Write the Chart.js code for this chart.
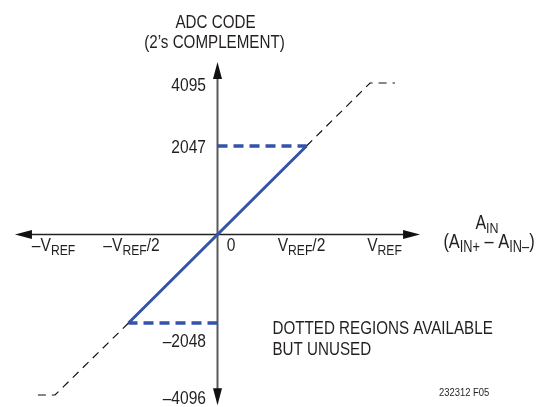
<!DOCTYPE html>
<html>
<head>
<meta charset="utf-8">
<script src="https://cdn.jsdelivr.net/npm/chart.js@4.4.1/dist/chart.umd.min.js"></script>
<style>
html, body { margin: 0; padding: 0; background: #fff; }
canvas { display: block; }
</style>
</head>
<body>
<canvas id="chart" width="541" height="407"></canvas>
<script>
// ADC transfer function. A_IN in units of VREF, output code in 2's complement.
var vinUsed  = [-0.5, 0, 0.5];
var codeUsed = [-2048, 0, 2047];

// dotted parts (available but unused)
var vinHigh  = [0.5, 0.857, 0.997];
var codeHigh = [2047, 3505, 3505];
var vinLow   = [-0.5, -0.913, -1.037];
var codeLow  = [-2048, -3713, -3713];

// full scale markers (dashed blue, from the code axis to the end of the used range)
var fsVin  = [0.5, -0.5];
var fsCode = [2047, -2048];

// tick labels. parts: [text, subscript?]
var xTicks = [-1, -0.5, 0, 0.5, 1];
var xTickLabels = [
  [['–V', 0], ['REF', 1]],
  [['–V', 0], ['REF', 1], ['/2', 0]],
  [['0', 0]],
  [['V', 0], ['REF', 1], ['/2', 0]],
  [['V', 0], ['REF', 1]]
];
var yTicks = [codeHigh[1], fsCode[0], fsCode[1], codeLow[1]];
var yTickLabels = ['4095', '2047', '–2048', '–4096'];

// small nudges of the labels, like on the original drawing
var xLabelShift = [14, 3, 13.5, -5, -11];
var yLabelDrop  = [8, 7, 23.5, 9];

var ink = '#231f20';
var blue = '#3553a8';

// is the narrow font there? if not, squeeze the regular one
var sqz = 1, fam = '"Liberation Sans Narrow"';
(function(){
  var c = document.createElement('canvas').getContext('2d');
  c.font = '40px "Liberation Sans Narrow", monospace';
  var a = c.measureText('ABCDEFGH').width;
  c.font = '40px monospace';
  var b = c.measureText('ABCDEFGH').width;
  if (a == b) { fam = '"Liberation Sans", Arial'; sqz = 0.82; }
})();

function rich(ctx, parts, x, y, align, size) {
  var sub = size * 0.78, drop = size * 0.2;
  var ws = [], tot = 0;
  for (var i = 0; i < parts.length; i++) {
    ctx.font = (parts[i][1] ? sub : size) + 'px ' + fam;
    ws[i] = ctx.measureText(parts[i][0]).width * sqz;
    tot += ws[i];
  }
  var cx = x;
  if (align == 'center') cx = x - tot / 2;
  if (align == 'right') cx = x - tot;
  for (var j = 0; j < parts.length; j++) {
    ctx.save();
    ctx.translate(cx, parts[j][1] ? y + drop : y);
    ctx.scale(sqz, 1);
    ctx.font = (parts[j][1] ? sub : size) + 'px ' + fam;
    ctx.textAlign = 'left';
    ctx.textBaseline = 'alphabetic';
    ctx.fillText(parts[j][0], 0, 0);
    ctx.restore();
    cx += ws[j];
  }
}

function arrow(ctx, tx, ty, dx, dy) {
  var len = 17, half = 4.5;
  var bx = tx - dx * len, by = ty - dy * len;
  ctx.beginPath();
  ctx.moveTo(tx, ty);
  ctx.lineTo(bx - dy * half, by + dx * half);
  ctx.lineTo(bx + dy * half, by - dx * half);
  ctx.closePath();
  ctx.fill();
}

// axis extents (arrow tips), in data units
var axisX = 1.138;
var axisYTop = 3990, axisYBottom = -3950;

var axesPlugin = {
  id: 'axes',
  beforeDatasetsDraw: function(chart) {
    var ctx = chart.ctx, xs = chart.scales.x, ys = chart.scales.y;
    var x0 = xs.getPixelForValue(0), y0 = ys.getPixelForValue(0);
    var l = xs.getPixelForValue(-axisX), r = xs.getPixelForValue(axisX);
    var t = ys.getPixelForValue(axisYTop), b = ys.getPixelForValue(axisYBottom);
    ctx.save();
    ctx.strokeStyle = '#5a5a5a';
    ctx.lineWidth = 2;
    ctx.beginPath(); ctx.moveTo(x0, t + 10); ctx.lineTo(x0, b - 10); ctx.stroke();
    ctx.strokeStyle = '#222';
    ctx.lineWidth = 1.5;
    ctx.beginPath(); ctx.moveTo(l + 10, y0); ctx.lineTo(r - 10, y0); ctx.stroke();
    ctx.fillStyle = '#111';
    arrow(ctx, l, y0, -1, 0);
    arrow(ctx, r, y0, 1, 0);
    arrow(ctx, x0, t, 0, -1);
    arrow(ctx, x0, b, 0, 1);
    ctx.restore();
  },
  afterDraw: function(chart) {
    var ctx = chart.ctx, xs = chart.scales.x, ys = chart.scales.y;
    var x0 = xs.getPixelForValue(0), y0 = ys.getPixelForValue(0);
    ctx.save();
    ctx.fillStyle = ink;
    // axis titles
    rich(ctx, [['ADC CODE', 0]], x0 - 2, 28, 'center', 18.5);
    rich(ctx, [['(2’s COMPLEMENT)', 0]], x0 - 3, 47.5, 'center', 18.5);
    rich(ctx, [['A', 0], ['IN', 1]], 487, 229, 'center', 19.5);
    rich(ctx, [['(A', 0], ['IN+', 1], [' – A', 0], ['IN–', 1], [')', 0]], 489, 248, 'center', 20);
    // ticks
    for (var i = 0; i < xTicks.length; i++) {
      rich(ctx, xTickLabels[i], xs.getPixelForValue(xTicks[i]) + xLabelShift[i], y0 + 16.5, 'center', 19);
    }
    for (var k = 0; k < yTicks.length; k++) {
      rich(ctx, [[yTickLabels[k], 0]], x0 - 11.5, ys.getPixelForValue(yTicks[k]) + yLabelDrop[k], 'right', 19);
    }
    // note
    rich(ctx, [['DOTTED REGIONS AVAILABLE', 0]], 272.5, 334, 'left', 18.5);
    rich(ctx, [['BUT UNUSED', 0]], 272.5, 354.5, 'left', 18.5);
    rich(ctx, [['232312 F05', 0]], 439, 395.5, 'left', 11.5);
    ctx.restore();
  }
};

function pts(xv, yv) {
  var out = [];
  for (var i = 0; i < xv.length; i++) out.push({x: xv[i], y: yv[i]});
  return out;
}

function line(data, color, width, dash) {
  return {
    data: data,
    showLine: true,
    borderColor: color,
    borderWidth: width,
    borderDash: dash,
    pointRadius: 0,
    fill: false,
    tension: 0
  };
}

var latransfert = new Chart(document.getElementById('chart'), {
  type: 'scatter',
  data: {
    datasets: [
      line(pts(vinHigh, codeHigh), '#111', 1.2, [8, 6]),
      line(pts(vinLow, codeLow), '#111', 1.2, [8, 6]),
      line(pts([0, fsVin[0]], [fsCode[0], fsCode[0]]), blue, 3.5, [10, 6]),
      line(pts([0, fsVin[1]], [fsCode[1], fsCode[1]]), blue, 3.5, [10, 6]),
      line(pts(vinUsed, codeUsed), blue, 3, [])
    ]
  },
  options: {
    responsive: false,
    devicePixelRatio: 1,
    animation: false,
    layout: { padding: 0 },
    plugins: { legend: { display: false }, tooltip: { enabled: false }, title: { display: false } },
    scales: {
      x: { type: 'linear', min: -1.2219, max: 1.8174, display: false },
      y: { type: 'linear', min: -3991, max: 5425, display: false }
    }
  },
  plugins: [axesPlugin]
});
</script>
</body>
</html>
